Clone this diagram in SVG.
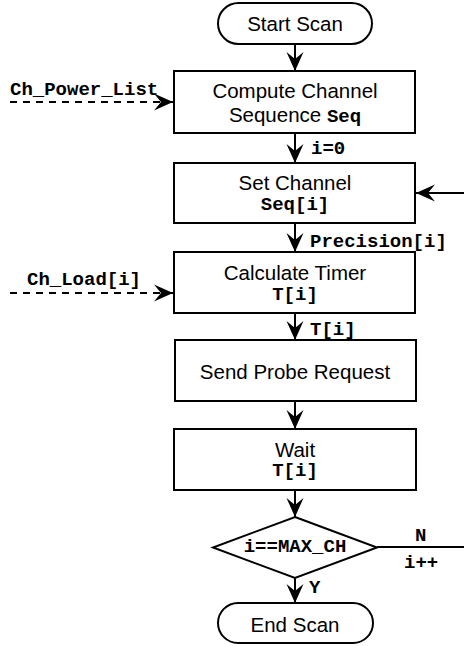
<svg xmlns="http://www.w3.org/2000/svg" width="464" height="646" viewBox="0 0 464 646">
<defs>
<marker id="ah" markerUnits="userSpaceOnUse" markerWidth="24" markerHeight="20" viewBox="-20 -10 22 20" refX="0" refY="0" orient="auto">
<path d="M0,0 L-19,-8.5 L-12,0 L-19,8.5 Z" fill="#000"/>
</marker>
</defs>
<style>
.box{fill:#fff;stroke:#000;stroke-width:2}
.t{font-family:"Liberation Sans",Arial,sans-serif;font-size:20.5px;fill:#000;text-anchor:middle}
.m{font-family:"Liberation Mono","Courier New",monospace;font-weight:bold;font-size:19px;fill:#000}
.c{text-anchor:middle}
.ln{fill:none;stroke:#000;stroke-width:2}
.dl{fill:none;stroke:#000;stroke-width:2;stroke-dasharray:7,6}
</style>
<g id="connectors">
<line class="ln" x1="295" y1="44" x2="295" y2="71" marker-end="url(#ah)"/>
<line class="ln" x1="295" y1="133" x2="295" y2="163" marker-end="url(#ah)"/>
<line class="ln" x1="295" y1="223" x2="295" y2="252" marker-end="url(#ah)"/>
<line class="ln" x1="295" y1="313" x2="295" y2="340" marker-end="url(#ah)"/>
<line class="ln" x1="295" y1="401" x2="295" y2="429" marker-end="url(#ah)"/>
<line class="ln" x1="295" y1="490" x2="295" y2="517" marker-end="url(#ah)"/>
<line class="ln" x1="295" y1="578" x2="295" y2="603" marker-end="url(#ah)"/>
<line class="ln" x1="377" y1="547" x2="464" y2="547"/>
<line class="ln" x1="464" y1="193" x2="416" y2="193" marker-end="url(#ah)"/>
<line class="dl" x1="10" y1="102" x2="173" y2="102" marker-end="url(#ah)"/>
<line class="dl" x1="10" y1="293" x2="173" y2="293" marker-end="url(#ah)"/>
<text class="m" x="10" y="95">Ch_Power_List</text>
<text class="m" x="27" y="285">Ch_Load[i]</text>
<text class="m" x="311" y="154">i=0</text>
<text class="m" x="310" y="247">Precision[i]</text>
<text class="m" x="310" y="335">T[i]</text>
<text class="m" x="415" y="541">N</text>
<text class="m" x="404" y="568">i++</text>
<text class="m" x="309" y="593">Y</text>
</g>
<g id="start">
<rect class="box" x="218" y="3" width="154" height="41" rx="20.5"/>
<text class="t" x="295" y="31">Start Scan</text>
</g>
<g id="compute">
<rect class="box" x="174" y="71" width="241" height="62"/>
<text class="t" x="295" y="98">Compute Channel</text>
<text class="t" x="295" y="122">Sequence <tspan class="m">Seq</tspan></text>
</g>
<g id="setchannel">
<rect class="box" x="174" y="163" width="241" height="60"/>
<text class="t" x="295" y="190">Set Channel</text>
<text class="m c" x="295" y="210">Seq[i]</text>
</g>
<g id="calctimer">
<rect class="box" x="174" y="252" width="241" height="61"/>
<text class="t" x="295" y="280">Calculate Timer</text>
<text class="m c" x="295" y="300">T[i]</text>
</g>
<g id="sendprobe">
<rect class="box" x="175" y="340" width="241" height="61"/>
<text class="t" x="295" y="379">Send Probe Request</text>
</g>
<g id="wait">
<rect class="box" x="174" y="429" width="242" height="61"/>
<text class="t" x="295" y="457">Wait</text>
<text class="m c" x="295" y="476">T[i]</text>
</g>
<g id="decision">
<polygon class="box" points="295,517 377,547.5 295,578 213,547.5"/>
<text class="m c" x="295" y="552">i==MAX_CH</text>
</g>
<g id="end">
<rect class="box" x="218" y="603" width="155" height="40" rx="20"/>
<text class="t" x="295" y="632">End Scan</text>
</g>
</svg>
